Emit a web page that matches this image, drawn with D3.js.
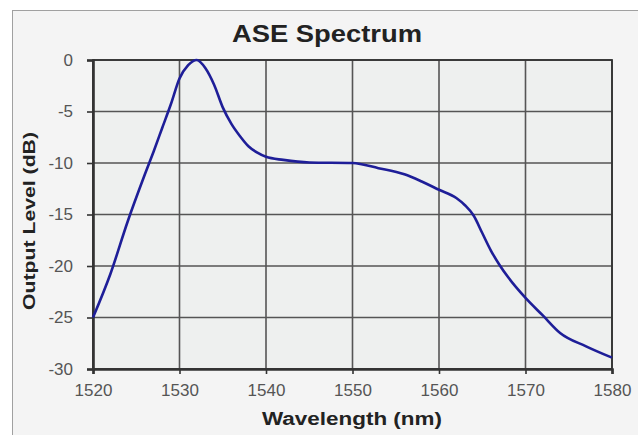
<!DOCTYPE html>
<html>
<head>
<meta charset="utf-8">
<script src="https://cdn.jsdelivr.net/npm/d3@7"></script>
<style>
  body { margin: 0; background: #fff; }
  svg { display: block; font-family: "Liberation Sans", Arial, sans-serif; }
</style>
</head>
<body>
<svg id="chart" width="638" height="435"></svg>
<script>
// Data
const wavelengths = [1520, 1522, 1524, 1526, 1527, 1528, 1529, 1530, 1531, 1532, 1533, 1534, 1535, 1536, 1537, 1538, 1539, 1540, 1542, 1545, 1550, 1553, 1556, 1558, 1560, 1562, 1563, 1564, 1565, 1566, 1567, 1568, 1570, 1572, 1574, 1577, 1580];
const outputLevels = [-25, -20.8, -15.7, -11.1, -8.9, -6.6, -4.3, -1.8, -0.5, 0, -0.8, -2.4, -4.6, -6.2, -7.4, -8.4, -9.0, -9.4, -9.7, -9.95, -10.0, -10.5, -11.1, -11.8, -12.6, -13.4, -14.1, -15.1, -16.8, -18.5, -19.9, -21.1, -23.1, -24.8, -26.5, -27.8, -28.9];
const xTicks = [1520, 1530, 1540, 1550, 1560, 1570, 1580];
const yTicks = [0, -5, -10, -15, -20, -25, -30];

const svg = d3.select('#chart');
const margin = { top: 60, right: 26, bottom: 66, left: 93 };
const width = 638 - margin.left - margin.right;
const height = 435 - margin.top - margin.bottom;

// Chart frame
svg.append('rect')
    .attr('x', 12.5).attr('y', 10.5)
    .attr('width', 640).attr('height', 440)
    .attr('fill', '#f4f4f4')
    .attr('stroke', '#a0a0a0');

const x = d3.scaleLinear().domain([1520, 1580]).range([0, width]);
const y = d3.scaleLinear().domain([-30, 0]).range([height, 0]);

const g = svg.append('g')
    .attr('transform', `translate(${margin.left},${margin.top})`);

// Plot area
g.append('rect')
    .attr('width', width).attr('height', height)
    .attr('fill', '#eef0ef');

// Gridlines
g.append('g')
    .selectAll('line')
    .data(xTicks)
    .join('line')
    .attr('x1', d => x(d)).attr('x2', d => x(d))
    .attr('y1', 0).attr('y2', height)
    .attr('stroke', '#555').attr('stroke-width', 1.6);

g.append('g')
    .selectAll('line')
    .data(yTicks)
    .join('line')
    .attr('x1', 0).attr('x2', width)
    .attr('y1', d => y(d)).attr('y2', d => y(d))
    .attr('stroke', '#555').attr('stroke-width', 1.6);

// Plot border
g.append('rect')
    .attr('width', width).attr('height', height)
    .attr('fill', 'none')
    .attr('stroke', '#333').attr('stroke-width', 1.8);

// Axes
const xAxis = g.append('g')
    .attr('transform', `translate(0,${height})`)
    .call(d3.axisBottom(x).tickValues(xTicks).tickSize(5).tickPadding(10).tickFormat(d3.format('d')));

const yAxis = g.append('g')
    .call(d3.axisLeft(y).tickValues(yTicks).tickSize(6).tickPadding(14).tickFormat(d => d === 0 ? '0' : '-' + Math.abs(d)));

[xAxis, yAxis].forEach(a => {
    a.select('.domain').attr('stroke', '#333').attr('stroke-width', 2.6);
    a.selectAll('.tick line').attr('stroke', '#333').attr('stroke-width', 1.6);
    a.selectAll('.tick text')
        .attr('fill', '#555')
        .style('font-size', '17px')
        .style('font-family', '"Liberation Sans", Arial, sans-serif');
});

// Spectrum line
const line = d3.line()
    .x((d, i) => x(wavelengths[i]))
    .y(d => y(d))
    .curve(d3.curveMonotoneX);

g.append('path')
    .datum(outputLevels)
    .attr('d', line)
    .attr('fill', 'none')
    .attr('stroke', '#1e1e98')
    .attr('stroke-width', 2.6)
    .attr('stroke-linejoin', 'round');

// Title and axis labels
svg.append('text')
    .attr('x', 327).attr('y', 42)
    .attr('text-anchor', 'middle')
    .attr('textLength', 190)
    .attr('lengthAdjust', 'spacingAndGlyphs')
    .style('font-size', '23px')
    .style('font-weight', 'bold')
    .attr('fill', '#222')
    .text('ASE Spectrum');

svg.append('text')
    .attr('x', 352).attr('y', 425)
    .attr('text-anchor', 'middle')
    .attr('textLength', 180)
    .attr('lengthAdjust', 'spacingAndGlyphs')
    .style('font-size', '18px')
    .style('font-weight', 'bold')
    .attr('fill', '#222')
    .text('Wavelength (nm)');

svg.append('text')
    .attr('transform', 'translate(35,221) rotate(-90)')
    .attr('text-anchor', 'middle')
    .attr('textLength', 178)
    .attr('lengthAdjust', 'spacingAndGlyphs')
    .style('font-size', '16px')
    .style('font-weight', 'bold')
    .attr('fill', '#222')
    .text('Output Level (dB)');
</script>
</body>
</html>
